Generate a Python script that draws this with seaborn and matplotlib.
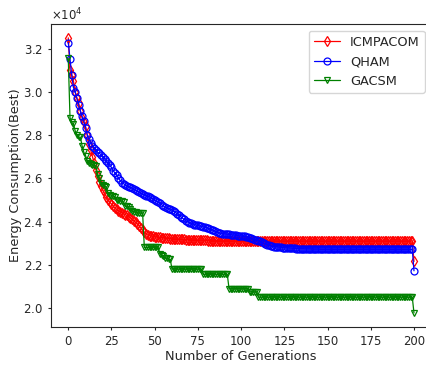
import matplotlib
matplotlib.use("Agg")
import matplotlib.pyplot as plt
import numpy as np
import seaborn as sns

sns.set_style("ticks")
plt.rcParams["font.family"] = ["DejaVu Sans"]
plt.rcParams["xtick.major.size"] = 2.2
plt.rcParams["ytick.major.size"] = 2.2
plt.rcParams["xtick.labelsize"] = 8.4
plt.rcParams["ytick.labelsize"] = 8.4

# generation index 0..200
generations = list(range(201))

# best energy consumption per generation (x 1e4)
icmpacom = [
    3.250, 3.100, 3.080, 3.050, 3.000, 2.970, 2.950, 2.910, 2.880, 2.860,
    2.840, 2.800, 2.760, 2.730, 2.700, 2.670, 2.640, 2.610, 2.585, 2.565,
    2.545, 2.530, 2.515, 2.500, 2.490, 2.480, 2.470, 2.463, 2.456, 2.450,
    2.445, 2.440, 2.436, 2.432, 2.428, 2.423, 2.418, 2.410, 2.403, 2.396,
    2.389, 2.380, 2.370, 2.360, 2.350, 2.342, 2.338, 2.335, 2.333, 2.331,
    2.330, 2.329, 2.328, 2.327, 2.326, 2.325, 2.324, 2.323, 2.322, 2.321,
    2.320, 2.320, 2.319, 2.319, 2.318, 2.318, 2.317, 2.317, 2.316, 2.316,
    2.316, 2.315, 2.315, 2.315, 2.314, 2.314, 2.314, 2.313, 2.313, 2.313,
    2.313, 2.312, 2.312, 2.312, 2.312, 2.312, 2.311, 2.311, 2.311, 2.311,
    2.311, 2.311, 2.311, 2.311, 2.310, 2.310, 2.310, 2.310, 2.310, 2.310,
    2.310, 2.310, 2.310, 2.310, 2.310, 2.310, 2.310, 2.310, 2.310, 2.310,
    2.310, 2.310, 2.310, 2.310, 2.310, 2.310, 2.310, 2.310, 2.310, 2.310,
    2.310, 2.310, 2.310, 2.310, 2.310, 2.310, 2.310, 2.310, 2.310, 2.310,
    2.310, 2.310, 2.310, 2.310, 2.310, 2.310, 2.310, 2.310, 2.310, 2.310,
    2.310, 2.310, 2.310, 2.310, 2.310, 2.310, 2.310, 2.310, 2.310, 2.310,
    2.310, 2.310, 2.310, 2.310, 2.310, 2.310, 2.310, 2.310, 2.310, 2.310,
    2.310, 2.310, 2.310, 2.310, 2.310, 2.310, 2.310, 2.310, 2.310, 2.310,
    2.310, 2.310, 2.310, 2.310, 2.310, 2.310, 2.310, 2.310, 2.310, 2.310,
    2.310, 2.310, 2.310, 2.310, 2.310, 2.310, 2.310, 2.310, 2.310, 2.310,
    2.310, 2.310, 2.310, 2.310, 2.310, 2.310, 2.310, 2.310, 2.310, 2.310,
    2.215,
]

qham = [
    3.228, 3.152, 3.078, 3.020, 3.000, 2.970, 2.940, 2.912, 2.886, 2.863,
    2.835, 2.800, 2.780, 2.765, 2.750, 2.740, 2.730, 2.720, 2.715, 2.710,
    2.700, 2.690, 2.680, 2.670, 2.660, 2.650, 2.635, 2.625, 2.615, 2.600,
    2.590, 2.580, 2.575, 2.570, 2.565, 2.560, 2.558, 2.555, 2.550, 2.545,
    2.540, 2.535, 2.530, 2.528, 2.525, 2.520, 2.518, 2.515, 2.510, 2.505,
    2.500, 2.495, 2.490, 2.485, 2.478, 2.472, 2.466, 2.462, 2.460, 2.458,
    2.455, 2.450, 2.443, 2.436, 2.430, 2.423, 2.416, 2.410, 2.404, 2.399,
    2.395, 2.392, 2.389, 2.386, 2.384, 2.382, 2.380, 2.378, 2.376, 2.374,
    2.372, 2.369, 2.366, 2.363, 2.359, 2.355, 2.351, 2.348, 2.346, 2.344,
    2.343, 2.342, 2.341, 2.340, 2.339, 2.338, 2.337, 2.336, 2.335, 2.334,
    2.333, 2.332, 2.331, 2.329, 2.327, 2.325, 2.322, 2.319, 2.316, 2.313,
    2.311, 2.308, 2.304, 2.300, 2.296, 2.293, 2.290, 2.288, 2.286, 2.284,
    2.283, 2.282, 2.281, 2.280, 2.279, 2.279, 2.278, 2.278, 2.277, 2.277,
    2.276, 2.276, 2.275, 2.275, 2.274, 2.274, 2.274, 2.273, 2.273, 2.273,
    2.273, 2.272, 2.272, 2.272, 2.272, 2.272, 2.271, 2.271, 2.271, 2.271,
    2.271, 2.271, 2.271, 2.271, 2.271, 2.271, 2.271, 2.271, 2.271, 2.271,
    2.271, 2.271, 2.271, 2.271, 2.271, 2.271, 2.271, 2.271, 2.271, 2.271,
    2.271, 2.271, 2.271, 2.271, 2.271, 2.271, 2.271, 2.271, 2.271, 2.271,
    2.271, 2.271, 2.271, 2.271, 2.271, 2.271, 2.271, 2.271, 2.271, 2.271,
    2.271, 2.271, 2.271, 2.271, 2.271, 2.271, 2.271, 2.271, 2.271, 2.271,
    2.172,
]

gacsm = [
    3.155, 2.880, 2.860, 2.850, 2.820, 2.800, 2.790, 2.790, 2.750, 2.720,
    2.705, 2.680, 2.670, 2.665, 2.660, 2.660, 2.655, 2.620, 2.600, 2.580,
    2.570, 2.565, 2.560, 2.530, 2.525, 2.520, 2.520, 2.515, 2.500, 2.500,
    2.495, 2.495, 2.490, 2.470, 2.470, 2.465, 2.460, 2.450, 2.445, 2.445,
    2.440, 2.440, 2.440, 2.440, 2.280, 2.280, 2.280, 2.280, 2.280, 2.280,
    2.280, 2.280, 2.280, 2.250, 2.245, 2.240, 2.230, 2.230, 2.225, 2.225,
    2.180, 2.180, 2.180, 2.180, 2.180, 2.180, 2.180, 2.180, 2.180, 2.180,
    2.180, 2.180, 2.180, 2.180, 2.180, 2.180, 2.180, 2.180, 2.155, 2.155,
    2.155, 2.155, 2.155, 2.155, 2.155, 2.155, 2.155, 2.155, 2.155, 2.155,
    2.155, 2.155, 2.155, 2.090, 2.090, 2.090, 2.090, 2.090, 2.090, 2.090,
    2.090, 2.090, 2.090, 2.090, 2.090, 2.075, 2.075, 2.075, 2.075, 2.075,
    2.050, 2.050, 2.050, 2.050, 2.050, 2.050, 2.050, 2.050, 2.050, 2.050,
    2.050, 2.050, 2.050, 2.050, 2.050, 2.050, 2.050, 2.050, 2.050, 2.050,
    2.050, 2.050, 2.050, 2.050, 2.050, 2.050, 2.050, 2.050, 2.050, 2.050,
    2.050, 2.050, 2.050, 2.050, 2.050, 2.050, 2.050, 2.050, 2.050, 2.050,
    2.050, 2.050, 2.050, 2.050, 2.050, 2.050, 2.050, 2.050, 2.050, 2.050,
    2.050, 2.050, 2.050, 2.050, 2.050, 2.050, 2.050, 2.050, 2.050, 2.050,
    2.050, 2.050, 2.050, 2.050, 2.050, 2.050, 2.050, 2.050, 2.050, 2.050,
    2.050, 2.050, 2.050, 2.050, 2.050, 2.050, 2.050, 2.050, 2.050, 2.050,
    2.050, 2.050, 2.050, 2.050, 2.050, 2.050, 2.050, 2.050, 2.050, 2.050,
    1.977,
]

series = [
    ("ICMPACOM", icmpacom, "red", "d"),
    ("QHAM", qham, "blue", "o"),
    ("GACSM", gacsm, "green", "v"),
]

fig = plt.figure(figsize=(4.27, 3.65), dpi=100)
# axes run past the right edge, as in the reference crop
ax = fig.add_axes([0.1194, 0.105, 0.8906, 0.829])

for name, vals, color, marker in series:
    sns.lineplot(x=generations, y=np.array(vals) * 1e4, ax=ax, color=color,
                 marker=marker, markersize=5, mfc="none", mec=color, mew=0.9,
                 linewidth=0.9, label=name)

ax.set_xticks([0, 25, 50, 75, 100, 125, 150, 175, 200])
ax.set_xlabel("Number of Generations", fontsize=9.3, labelpad=1.5)
ax.set_ylabel("Energy Consumption(Best)", fontsize=9.3, labelpad=1)
ax.ticklabel_format(axis="y", style="sci", scilimits=(0, 0), useMathText=True)
ax.yaxis.get_offset_text().set_fontsize(8.4)
ax.legend(loc="upper right", fontsize=9.3)

plt.savefig("out.png", dpi=100)
plt.close()
